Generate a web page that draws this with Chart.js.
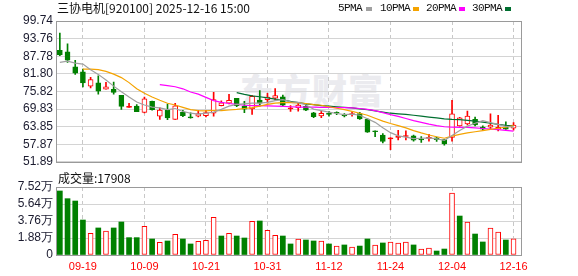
<!DOCTYPE html>
<html><head><meta charset="utf-8">
<script src="https://cdn.jsdelivr.net/npm/chart.js@4.4.1/dist/chart.umd.min.js"></script>
<style>
html,body{margin:0;padding:0;background:#fff;width:578px;height:276px;overflow:hidden;}
#wrap{position:relative;width:578px;height:276px;}
.txt{position:absolute;font-family:"Noto Sans CJK SC",sans-serif;font-size:12px;color:#111;white-space:nowrap;line-height:14px;}
.lg{position:absolute;font-family:"Liberation Mono",monospace;font-size:11px;letter-spacing:-0.6px;color:#111;white-space:nowrap;line-height:14px;top:1px;}
.mk{position:absolute;width:6px;height:4px;top:7px;}
#wm{position:absolute;left:240px;top:70px;font-family:"Noto Sans CJK SC",sans-serif;font-weight:900;font-size:35px;line-height:38px;color:#ebebef;letter-spacing:1px;white-space:nowrap;}
canvas{position:absolute;left:0;}
</style></head>
<body><div id="wrap">
<div id="wm">东方财富</div>
<canvas id="main" width="578" height="172" style="top:0"></canvas>
<canvas id="vol" width="578" height="111" style="top:165px"></canvas>
<div class="txt" style="left:57px;top:1px;">三协电机[920100] 2025-12-16 15:00</div>
<div class="lg" style="left:338px">5PMA</div><div class="mk" style="left:366px;background:#a0a0a0"></div>
<div class="lg" style="left:380px">10PMA</div><div class="mk" style="left:413px;background:#f5a300"></div>
<div class="lg" style="left:426px">20PMA</div><div class="mk" style="left:459px;background:#ff00ff"></div>
<div class="lg" style="left:472px">30PMA</div><div class="mk" style="left:505px;background:#006f30"></div>
<div class="txt" style="left:58px;top:171px;">成交量:17908</div>
</div>
<script>
const dates = ['09-16','09-17','09-18','09-19','09-22','09-23','09-24','09-25','09-26','09-29',
 '09-30','10-09','10-10','10-13','10-14','10-15','10-16','10-17','10-20','10-21',
 '10-22','10-23','10-24','10-27','10-28','10-29','10-30','10-31','11-03','11-04',
 '11-05','11-06','11-07','11-10','11-11','11-12','11-13','11-14','11-17','11-18',
 '11-19','11-20','11-21','11-24','11-25','11-26','11-27','11-28','12-01','12-02',
 '12-03','12-04','12-05','12-08','12-09','12-10','12-11','12-12','12-15','12-16'];
const open = [89.8,89.3,84.2,82.5,77.6,78.7,76.6,76.5,74.5,70.4, 70.8,68.7,72.4,67.4,69.4,66.3,68.7,67.2,67.4,67.6,
 68.4,71.0,71.8,73.5,70.7,69.9,72.9,73.0,73.5,74.0, 69.9,70.3,70.7,68.5,67.5,68.3,68.6,67.8,67.9,68.3,
 66.4,62.2,61.0,59.7,60.2,60.5,60.7,59.5,59.8,60.0, 59.4,60.2,64.1,64.8,66.3,63.7,63.7,63.0,63.7,63.3];
const high = [95.6,92.0,86.4,83.4,80.6,81.1,78.9,79.0,74.5,71.8, 71.3,73.9,72.5,70.2,71.5,71.8,69.4,68.5,69.4,69.4,
 75.5,72.6,74.8,73.5,72.4,74.5,76.1,75.2,76.8,74.6, 71.0,71.8,71.8,68.7,69.0,69.0,68.9,68.3,68.9,68.7,
 66.6,62.4,61.5,60.1,62.6,62.4,61.0,60.5,61.2,60.3, 59.5,72.8,67.0,69.1,67.1,64.1,68.2,67.7,65.5,65.2];
const low = [88.0,85.7,81.6,77.3,77.0,74.9,76.6,74.9,69.7,70.4, 68.9,68.5,69.4,66.3,66.2,66.3,67.2,66.7,67.1,67.1,
 67.4,70.9,71.6,70.6,68.6,68.0,70.8,71.8,72.8,70.9, 69.0,69.1,69.3,66.9,66.9,67.4,67.9,67.1,67.4,66.3,
 61.9,60.4,58.3,56.0,59.3,59.3,58.9,58.5,58.9,58.8, 57.5,58.9,64.0,64.4,64.1,62.6,63.0,62.4,62.9,62.6];
const close = [88.2,86.4,82.0,78.7,79.8,75.9,77.4,75.5,70.7,70.7, 68.9,73.3,69.6,69.5,66.8,70.9,67.6,66.8,68.3,68.6,
 73.0,71.9,72.8,71.0,69.8,74.1,71.8,73.9,74.4,71.1, 70.1,71.2,69.4,67.2,68.4,68.0,68.4,67.5,68.2,66.5,
 62.0,62.1,58.8,60.0,60.5,60.7,59.2,59.3,60.2,59.4, 58.0,68.2,66.8,67.4,64.4,63.0,64.4,63.6,63.0,64.4];
const volume = [70800,62300,59700,38700,24000,29900,26500,29900,36500,19200,
 19200,31700,17700,14000,15500,22900,17700,12200,15100,16200,
 41700,21000,24000,21000,18800,37200,37600,27300,21800,21000,
 12200,17700,16600,15500,15500,12200,9900,11100,8800,9900,
 17700,11100,13300,14400,13300,14400,11100,6600,7700,4400,
 6600,68600,43100,36500,23200,14400,29900,25400,16600,17908];
const volUp = [0,0,0,0,1,0,1,0,0,0, 0,1,0,1,0,1,0,0,1,1, 1,0,1,0,0,1,0,1,1,0,
 0,1,0,0,1,0,1,0,1,0, 0,1,0,1,1,1,0,1,1,0, 0,1,0,1,0,0,1,1,0,1];
const ma5 = [85.7,86.1,85.4,85.1,83.2,81.6,79.7,77.6,75.7,73.9, 72.2,71.2,70.5,70.2,69.6,70.0,69.0,68.4,68.1,68.4,
 68.8,69.7,70.8,71.4,71.6,71.8,71.8,72.1,72.7,73.0, 72.3,72.1,71.2,69.8,69.3,68.8,68.3,67.9,68.1,67.7,
 66.5,65.3,63.5,61.8,60.7,60.3,59.8,59.9,60.0,59.7, 59.2,60.8,62.5,64.0,65.0,65.9,65.2,64.6,63.9,63.7];
const ma10 = [null,null,null,83.4,83.4,83.2,82.6,81.7,80.5,78.8, 76.7,75.2,73.9,72.8,71.8,71.2,70.4,69.6,69.3,69.2,
 69.4,69.3,69.5,69.7,70.0,70.3,70.8,71.4,71.8,72.0, 72.0,71.9,71.7,71.3,71.1,70.6,70.1,69.6,69.0,68.4,
 67.7,66.7,65.7,64.9,64.2,63.4,62.5,61.7,61.0,60.4, 59.9,60.6,61.2,61.7,62.1,62.5,62.9,63.3,63.7,64.2];
const ma20 = [null,null,null,null,null,null,null,null,null,null,null,null,null,
 78.1,77.8,77.4,76.7,75.6,74.9,73.8,
 72.7,72.1,71.7,71.4,71.1,71.0,71.0,70.9,70.8,70.7, 70.6,70.5,70.5,70.5,70.4,70.4,70.3,70.3,70.2,70.0,
 69.7,69.3,68.6,67.9,67.3,66.6,65.9,65.3,64.7,64.2, 63.8,63.7,63.6,63.6,63.4,63.2,63.0,62.8,62.6,62.3];
const ma30 = [null,null,null,null,null,null,null,null,null,null,null,null,null,null,null,null,null,null,null,null,null,null,null,
 75.4,74.8,74.3,74.0,73.6,73.2,72.9,
 72.4,72.0,71.6,71.3,71.0,70.8,70.6,70.4,70.2,69.9, 69.6,69.2,68.8,68.4,68.2,68.0,67.7,67.4,67.1,66.8,
 66.5,66.3,66.2,66.0,65.7,65.4,65.0,64.6,64.3,64.1];
const priceTicks = ['51.89','57.87','63.85','69.83','75.82','81.80','87.78','93.76','99.74'];
const volTickValues = [0,18800,37600,56400,75200];
const volTicks = ['0','1.88万','3.76万','5.64万','7.52万'];
const dateTickIdx = [3,11,19,27,35,43,51,59];

const RED = '#ff0000', GREEN = '#008000';
const AXIS_FONT = {family:'Liberation Sans', size:12};
const LABEL_COLOR = '#1b1b2f';

const frame = {id:'frame', afterDatasetsDraw(c){
  const a = c.chartArea, ctx = c.ctx;
  ctx.save(); ctx.strokeStyle = '#9a9a9a'; ctx.lineWidth = 1;
  ctx.strokeRect(Math.round(a.left)+0.5, Math.round(a.top)+0.5, Math.round(a.right-a.left)-1, Math.round(a.bottom-a.top));
  ctx.restore();
}};

function xScale(showLabels){
  return {
    type:'linear', min:-0.5, max:60.1, offset:false,
    afterBuildTicks: s => { s.ticks = dateTickIdx.map(v => ({value:v})); },
    ticks:{display:showLabels, autoSkip:false, maxRotation:0, padding:5, color:RED,
      font:{family:'Liberation Sans', size:11}, callback: v => dates[Math.round(v)]},
    grid:{color:'#c8c8c8', drawTicks:false, offset:false},
    border:{display:false, dash:[4,3]},
    afterFit: s => { s.height = showLabels ? 21 : 0; }
  };
}
const up = i => close[i] >= open[i];
const idx = d => d.map((v,i)=>({x:i,y:v}));

new Chart(document.getElementById('main'), {
  type:'bar',
  data:{datasets:[
    {type:'line', label:'5PMA', data: idx(ma5), borderColor:'#a0a0a0', borderWidth:1.2, pointRadius:0, order:0},
    {type:'line', label:'10PMA', data: idx(ma10), borderColor:'#f5a300', borderWidth:1.2, pointRadius:0, order:0},
    {type:'line', label:'20PMA', data: idx(ma20), borderColor:'#ff00ff', borderWidth:1.2, pointRadius:0, order:0},
    {type:'line', label:'30PMA', data: idx(ma30), borderColor:'#006f30', borderWidth:1.2, pointRadius:0, order:0},
    {label:'body', data: dates.map((d,i)=>({x:i, y:[open[i], close[i]]})), grouped:false, barThickness:5, minBarLength:1,
      borderWidth:1, borderSkipped:false, order:1,
      backgroundColor: c => { const i=c.dataIndex; if(i===undefined) return GREEN; return up(i) ? (Math.abs(close[i]-open[i])<0.45 ? RED : '#ffffff') : GREEN; },
      borderColor: c => { const i=c.dataIndex; if(i===undefined) return GREEN; return up(i) ? RED : GREEN; }},
    {label:'wick', data: dates.map((d,i)=>({x:i, y:[low[i], high[i]]})), grouped:false, barThickness:1, borderWidth:0, order:2,
      backgroundColor: c => { const i=c.dataIndex; if(i===undefined) return GREEN; return up(i) ? RED : GREEN; }}
  ]},
  options:{responsive:false, animation:false, events:[],
    layout:{padding:{left:0, right:56, top:21, bottom:7}},
    plugins:{legend:{display:false}, tooltip:{enabled:false}},
    scales:{
      x: xScale(false),
      y:{min:parseFloat(priceTicks[0]), max:parseFloat(priceTicks[priceTicks.length-1]),
        afterBuildTicks: s => { s.ticks = priceTicks.map(t => ({value:parseFloat(t)})); },
        ticks:{autoSkip:false, padding:3, color:LABEL_COLOR, font:AXIS_FONT, callback:(v,i)=>priceTicks[i]},
        grid:{color:'#d4d4d4', drawTicks:false}, border:{display:false},
        afterFit: s => { s.width = 56; }}
    }},
  plugins:[frame]
});

new Chart(document.getElementById('vol'), {
  type:'bar',
  data:{datasets:[
    {label:'成交量', data: idx(volume), barThickness:5, borderSkipped:false,
      backgroundColor: c => { const i=c.dataIndex; if(i===undefined) return GREEN; return volUp[i] ? '#ffffff' : GREEN; },
      borderColor: c => { const i=c.dataIndex; if(i===undefined) return GREEN; return volUp[i] ? RED : GREEN; },
      borderWidth: c => { const i=c.dataIndex; if(i===undefined) return 0; return volUp[i] ? 1 : 0; }}
  ]},
  options:{responsive:false, animation:false, events:[],
    layout:{padding:{left:0, right:56, top:22, bottom:0}},
    plugins:{legend:{display:false}, tooltip:{enabled:false}},
    scales:{
      x: xScale(true),
      y:{min:0, max:volTickValues[volTickValues.length-1],
        afterBuildTicks: s => { s.ticks = volTickValues.map(v => ({value:v})); },
        ticks:{autoSkip:false, padding:3, color:LABEL_COLOR, font:AXIS_FONT, callback:(v,i)=>volTicks[i]},
        grid:{color:'#d4d4d4', drawTicks:false}, border:{display:false},
        afterFit: s => { s.width = 56; }}
    }},
  plugins:[frame]
});
</script>
</body></html>
